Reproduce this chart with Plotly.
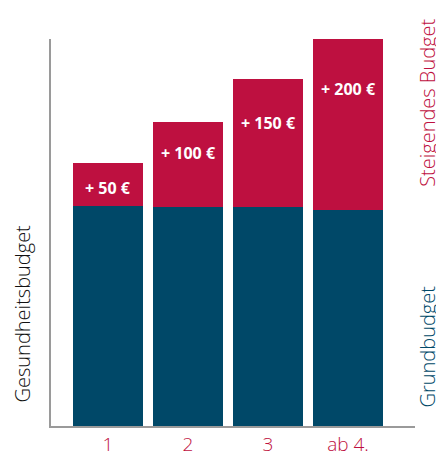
import plotly.graph_objects as go

categories = ["1", "2", "3", "ab 4."]
grundbudget = [258, 256, 256, 253]
steigendes = [50, 100, 150, 200]
bar_labels = ["+ 50 €", "+ 100 €", "+ 150 €", "+ 200 €"]

RED = "#BE1040"
TEAL = "#004868"
FONT = "Open Sans"

x = list(range(len(categories)))
fig = go.Figure()
fig.add_trace(go.Bar(x=x, y=grundbudget, marker=dict(color=TEAL, line_width=0),
                     width=0.875, hoverinfo="skip"))
fig.add_trace(go.Bar(x=x, y=steigendes, marker=dict(color=RED, line_width=0),
                     width=0.875, hoverinfo="skip"))

label_shift = [-25, -31, -44, -50]
for i, (g, s, t) in enumerate(zip(grundbudget, steigendes, bar_labels)):
    fig.add_annotation(x=i, y=g + s, text=t, showarrow=False, yshift=label_shift[i],
                       xanchor="center", yanchor="middle",
                       font=dict(family=FONT, size=16, color="white", weight="bold"))

side = dict(xref="paper", yref="paper", textangle=-90, showarrow=False,
            xanchor="center", yanchor="middle")
fig.add_annotation(x=1.0357, y=0.835, text="Steigendes Budget",
                   font=dict(family=FONT, size=20, color=RED, weight=300), **side)
fig.add_annotation(x=1.0357, y=0.2054, text="Grundbudget",
                   font=dict(family=FONT, size=20, color=TEAL, weight=300), **side)
fig.add_annotation(x=-0.077, y=0.2907, text="Gesundheitsbudget",
                   font=dict(family=FONT, size=20, color="#111111", weight=300), **side)

# page body adds an 8px offset, so the figure is sized to the visible area
fig.update_layout(
    barmode="stack",
    width=436, height=449,
    margin=dict(l=43, r=29, t=31, b=31, autoexpand=False),
    paper_bgcolor="white", plot_bgcolor="white",
    showlegend=False,
    xaxis=dict(range=[-0.7125, 3.8375], tickvals=x, ticktext=categories,
               showline=True, linecolor="#9a9a9a", linewidth=2, showgrid=False,
               zeroline=False, ticks="", automargin=False,
               tickfont=dict(family=FONT, size=19, color=RED, weight=300)),
    yaxis=dict(range=[0, 453], showline=True, linecolor="#9a9a9a", linewidth=2,
               showgrid=False, zeroline=False, showticklabels=False, ticks="",
               automargin=False),
)

fig.write_html("out.html")
